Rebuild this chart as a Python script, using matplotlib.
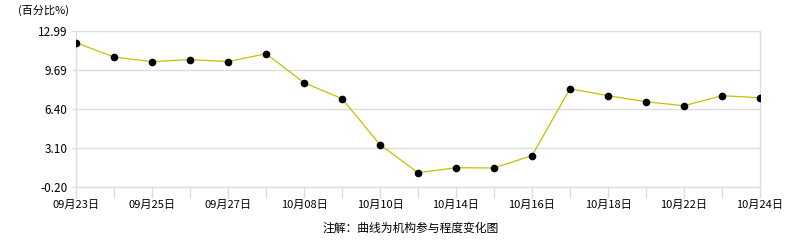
import matplotlib as mpl
import matplotlib.pyplot as plt

mpl.rcParams['font.family'] = ['Noto Sans CJK SC', 'DejaVu Sans']

dates = ['09月23日', '09月24日', '09月25日', '09月26日', '09月27日', '09月30日',
         '10月08日', '10月09日', '10月10日', '10月11日', '10月14日', '10月15日',
         '10月16日', '10月17日', '10月18日', '10月21日', '10月22日', '10月23日',
         '10月24日']
values = [12.00, 10.79, 10.40, 10.57, 10.40, 11.07, 8.62, 7.27, 3.38, 1.01,
          1.43, 1.41, 2.45, 8.11, 7.52, 7.01, 6.67, 7.52, 7.35]
y_ticks = [-0.20, 3.10, 6.40, 9.69, 12.99]

GRID = '#dddddd'
LINE = '#c8c000'

fig = plt.figure(figsize=(7.86, 2.4), dpi=100)
ax = fig.add_axes([76/786, 53/240, 684/786, 156/240])

x = list(range(len(values)))
ax.plot(x, values, color=LINE, linewidth=0.9, zorder=3)
ax.plot(x, values, 'o', color='black', markersize=4.5, zorder=4)

ax.set_xlim(0, len(values) - 1)
ax.set_ylim(y_ticks[0], y_ticks[-1])

ax.set_yticks(y_ticks)
ax.set_yticklabels([f'{v:.2f}' for v in y_ticks], fontsize=8.5)
ax.set_xticks(x)
ax.set_xticklabels([d if i % 2 == 0 else '' for i, d in enumerate(dates)], fontsize=8)

ax.grid(axis='y', color=GRID, linewidth=1)
ax.tick_params(axis='x', length=8, color=GRID, width=1, pad=1)
ax.tick_params(axis='y', length=3, color=GRID, width=1, pad=3)

ax.spines['top'].set_visible(False)
for side in ['left', 'right', 'bottom']:
    ax.spines[side].set_color(GRID)
    ax.spines[side].set_linewidth(1)

fig.text(18/786, 1 - 10/240, '(百分比%)', fontsize=8, va='center', ha='left')
fig.text(411/786, 1 - 228/240, '注解：曲线为机构参与程度变化图', fontsize=8.5,
         va='center', ha='center')

fig.savefig('out.png', dpi=100)
